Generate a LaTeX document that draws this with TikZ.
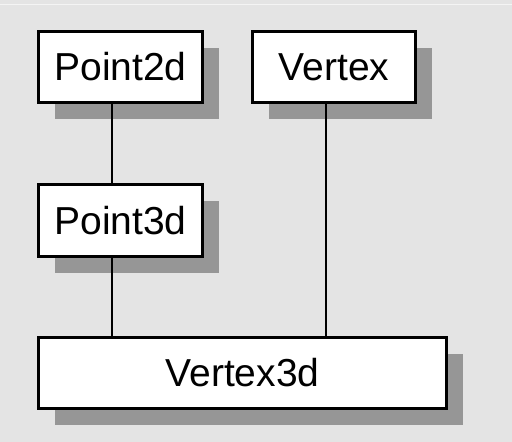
\documentclass[tikz,border=0pt]{standalone}
\usepackage{fontspec}
\setmainfont{Liberation Sans}
\usetikzlibrary{shadows,calc}
\definecolor{bggray}{HTML}{E4E4E4}
\definecolor{shadowgray}{HTML}{969696}
\tikzstyle{box}=[rectangle, fill=white, draw=black, line width=3pt, inner sep=0pt, anchor=center, font=\fontsize{39}{44}\selectfont, drop shadow={shadow xshift=16pt, shadow yshift=-16pt, fill=shadowgray, opacity=1}]
\tikzstyle{link}=[draw=black, line width=2pt]

\begin{document}
\begin{tikzpicture}[x=1pt, y=-1pt]
	% background
	\fill[bggray] (0,0) rectangle (512,442);
	\useasboundingbox (0,0) rectangle (512,442);
	\draw[color=white!60!bggray, line width=1pt] (0,4) -- (512,4);

	\node[box, minimum width=164pt, minimum height=71pt](point2d) at (120.5,67){Point2d};
	\node[box, minimum width=163pt, minimum height=71pt](vertex) at (334,67){Vertex};
	\node[box, minimum width=164pt, minimum height=72pt](point3d) at (120.5,220.5){Point3d};
	\node[box, minimum width=408pt, minimum height=71pt](vertex3d) at (242.5,373){Vertex3d};

	\draw[link] ([xshift=-8.5pt]point2d.south) -- ([xshift=-8.5pt]point3d.north);
	\draw[link] ([xshift=-8.5pt]point3d.south) -- ([xshift=-8.5pt]point3d.south |- vertex3d.north);
	\draw[link] ([xshift=-8pt]vertex.south) -- ([xshift=-8pt]vertex.south |- vertex3d.north);
\end{tikzpicture}
\end{document}
